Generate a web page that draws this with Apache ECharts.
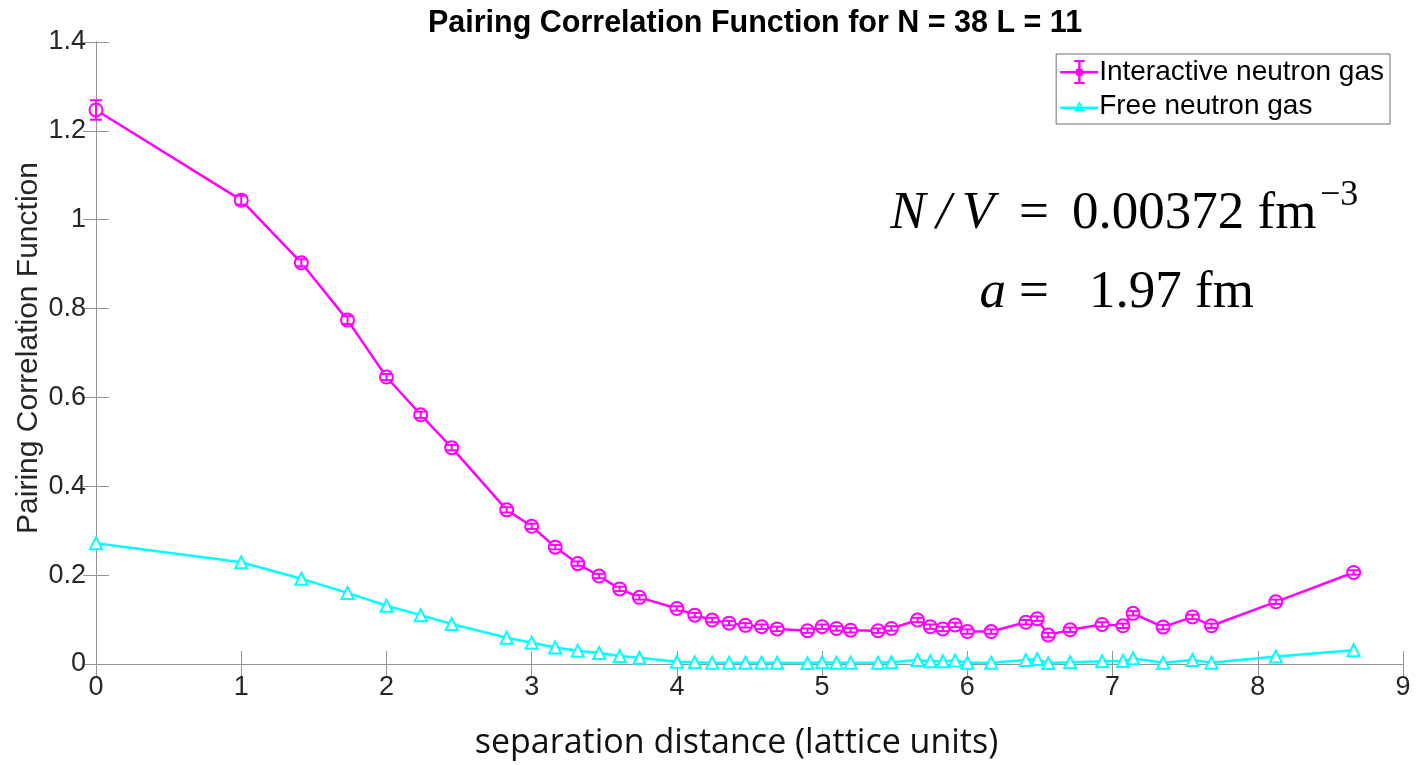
<!DOCTYPE html>
<html>
<head>
<meta charset="utf-8">
<title>Pairing Correlation Function</title>
<script src="https://cdn.jsdelivr.net/npm/echarts@6/dist/echarts.min.js"></script>
<style>
html, body { margin: 0; padding: 0; background: #fff; }
#chart { width: 1417px; height: 765px; }
</style>
</head>
<body>
<div id="chart"></div>
<script>
// separation distance (lattice units)
var distances = [0, 1, 1.414, 1.732, 2, 2.236, 2.449, 2.828, 3, 3.162, 3.317, 3.464, 3.606, 3.742,
	4, 4.123, 4.243, 4.359, 4.472, 4.583, 4.690, 4.899, 5, 5.099, 5.196, 5.385, 5.477, 5.657,
	5.745, 5.831, 5.916, 6, 6.164, 6.403, 6.481, 6.557, 6.708, 6.928, 7.071, 7.141, 7.348,
	7.550, 7.681, 8.124, 8.660];
// interactive neutron gas
var interactive = [1.247, 1.044, 0.903, 0.774, 0.646, 0.561, 0.487, 0.347, 0.310, 0.263, 0.226, 0.198, 0.169, 0.150,
	0.125, 0.110, 0.099, 0.092, 0.087, 0.084, 0.079, 0.075, 0.084, 0.080, 0.076, 0.075, 0.080, 0.099,
	0.084, 0.079, 0.088, 0.073, 0.073, 0.094, 0.102, 0.065, 0.077, 0.089, 0.086, 0.114, 0.083,
	0.106, 0.086, 0.140, 0.206];
// half width of the error bars
var interactiveErr = [0.022, 0.010, 0.008, 0.009, 0.007, 0.007, 0.006, 0.006, 0.006, 0.005, 0.005, 0.005, 0.005, 0.005,
	0.005, 0.005, 0.005, 0.005, 0.005, 0.005, 0.005, 0.005, 0.005, 0.005, 0.005, 0.005, 0.005, 0.005,
	0.005, 0.005, 0.005, 0.005, 0.005, 0.005, 0.005, 0.005, 0.005, 0.005, 0.005, 0.005, 0.005,
	0.005, 0.005, 0.005, 0.005];
// free neutron gas
var freeGas = [0.272, 0.229, 0.192, 0.160, 0.131, 0.110, 0.090, 0.059, 0.048, 0.037, 0.030, 0.025, 0.018, 0.014,
	0.005, 0.004, 0.003, 0.003, 0.003, 0.003, 0.003, 0.002, 0.004, 0.003, 0.003, 0.003, 0.004, 0.009,
	0.006, 0.006, 0.008, 0.003, 0.003, 0.009, 0.011, 0.002, 0.004, 0.006, 0.007, 0.013, 0.003,
	0.009, 0.003, 0.017, 0.031];

var magenta = '#ff00ff';
var cyan = '#00ffff';
var axisGray = '#949494';
var labelColor = '#262626';

// legend icons (38 x 26 box): line + dot + error bar, line + hollow triangle
var errIcon = 'path://M0,12 L38,12 L38,14.4 L0,14.4 Z ' +
	'M18,1 L20.4,1 L20.4,25 L18,25 Z ' +
	'M14,1 L24.4,1 L24.4,3 L14,3 Z ' +
	'M14,23 L24.4,23 L24.4,25 L14,25 Z ' +
	'M23.4,13.2 A4.2,4.2 0 1,1 15,13.2 A4.2,4.2 0 1,1 23.4,13.2 Z';
var triIcon = 'path://M0,12 L38,12 L38,14.4 L0,14.4 Z ' +
	'M19.2,6.5 L24.6,16.5 L13.8,16.5 Z M19.2,10 L16.6,14.6 L21.8,14.6 Z';

var interactiveData = distances.map(function(d, i) { return [d, interactive[i]]; });
var errData = distances.map(function(d, i) { return [d, interactive[i] - interactiveErr[i], interactive[i] + interactiveErr[i]]; });
var freeData = distances.map(function(d, i) { return [d, freeGas[i]]; });

function boxAxis(pos, isX) {
	var ax = {
		type: 'value',
		position: pos,
		axisLine: { show: true, lineStyle: { color: axisGray, width: 1 } },
		axisTick: { show: true, inside: true, length: 13, lineStyle: { color: axisGray } },
		axisLabel: { show: false },
		splitLine: { show: false }
	};
	if (isX) { ax.min = 0; ax.max = 9; ax.interval = 1; }
	else { ax.min = 0; ax.max = 1.4; ax.interval = 0.2; }
	return ax;
}

var xMain = boxAxis('bottom', true);
xMain.axisLabel = { show: true, margin: 10, color: labelColor, fontSize: 27, fontFamily: 'Liberation Sans' };
xMain.name = 'separation distance (lattice units)';
xMain.nameLocation = 'middle';
xMain.nameGap = 62;
xMain.nameMoveOverlap = false;
xMain.nameTextStyle = { color: '#111', fontSize: 34, fontFamily: 'Open Sans', padding: [0, 26, 0, 0] };

var yMain = boxAxis('left', false);
yMain.axisLabel = { show: true, margin: 10, color: labelColor, fontSize: 27, fontFamily: 'Liberation Sans' };
yMain.name = 'Pairing Correlation Function';
yMain.nameLocation = 'middle';
yMain.nameGap = 52;
yMain.nameMoveOverlap = false;
yMain.nameTextStyle = { color: labelColor, fontSize: 30, fontFamily: 'Liberation Sans', padding: [0, 0, 0, 10] };

var option = {
	animation: false,
	backgroundColor: '#fff',
	title: {
		text: 'Pairing Correlation Function for N = 38 L = 11',
		left: 750,
		textAlign: 'center',
		top: 3,
		textStyle: { color: '#000', fontSize: 30.5, fontWeight: 'bold', fontFamily: 'Liberation Sans' }
	},
	grid: { left: 96, right: 14, top: 42, bottom: 101, containLabel: false },
	legend: {
		orient: 'vertical',
		right: 27,
		top: 54,
		data: [{ name: 'Interactive neutron gas', icon: errIcon }, { name: 'Free neutron gas', icon: triIcon }],
		backgroundColor: '#fff',
		borderColor: '#6f6f6f',
		borderWidth: 1,
		padding: [4, 6, 4, 4],
		itemGap: 6,
		itemWidth: 38,
		itemHeight: 26,
		textStyle: { color: '#000', fontSize: 28, fontFamily: 'Liberation Sans', padding: [0, 0, 0, -4] }
	},
	xAxis: [xMain, boxAxis('top', true)],
	yAxis: [yMain, boxAxis('right', false)],
	series: [{
		name: 'Interactive neutron gas',
		type: 'line',
		data: interactiveData,
		symbol: 'emptyCircle',
		symbolSize: 13,
		lineStyle: { color: magenta, width: 2.5 },
		itemStyle: { color: magenta, borderWidth: 2.2 },
		z: 3
	}, {
		name: 'errorbars',
		type: 'custom',
		data: errData,
		encode: { x: 0, y: [1, 2] },
		silent: true,
		z: 4,
		renderItem: function(params, api) {
			var x = api.value(0);
			var lo = api.coord([x, api.value(1)]);
			var hi = api.coord([x, api.value(2)]);
			var w = 6;
			var st = { stroke: magenta, lineWidth: 2 };
			return {
				type: 'group',
				children: [
					{ type: 'line', shape: { x1: hi[0], y1: hi[1], x2: lo[0], y2: lo[1] }, style: st },
					{ type: 'line', shape: { x1: hi[0] - w, y1: hi[1], x2: hi[0] + w, y2: hi[1] }, style: st },
					{ type: 'line', shape: { x1: lo[0] - w, y1: lo[1], x2: lo[0] + w, y2: lo[1] }, style: st }
				]
			};
		}
	}, {
		name: 'Free neutron gas',
		type: 'line',
		data: freeData,
		symbol: 'emptyTriangle',
		symbolSize: 12,
		lineStyle: { color: cyan, width: 2.5 },
		itemStyle: { color: cyan, borderWidth: 2.2 },
		z: 2
	}],
	graphic: [
		{ type: 'text', x: 994, y: 214, style: { text: 'N\u2009/\u2009V', fill: '#000', font: 'italic 53px "Liberation Serif"', textAlign: 'right', textVerticalAlign: 'middle' } },
		{ type: 'text', x: 1034, y: 214, style: { text: '=', fill: '#000', font: '53px "Liberation Serif"', textAlign: 'center', textVerticalAlign: 'middle' } },
		{ type: 'text', x: 1072, y: 214, style: { text: '0.00372 fm', fill: '#000', font: '53px "Liberation Serif"', textAlign: 'left', textVerticalAlign: 'middle' } },
		{ type: 'text', x: 1320, y: 196, style: { text: '\u22123', fill: '#000', font: '36px "Liberation Serif"', textAlign: 'left', textVerticalAlign: 'middle' } },
		{ type: 'text', x: 1006, y: 293, style: { text: 'a', fill: '#000', font: 'italic 53px "Liberation Serif"', textAlign: 'right', textVerticalAlign: 'middle' } },
		{ type: 'text', x: 1034, y: 293, style: { text: '=', fill: '#000', font: '53px "Liberation Serif"', textAlign: 'center', textVerticalAlign: 'middle' } },
		{ type: 'text', x: 1089, y: 293, style: { text: '1.97 fm', fill: '#000', font: '53px "Liberation Serif"', textAlign: 'left', textVerticalAlign: 'middle' } }
	]
};

var chart = echarts.init(document.getElementById('chart'));
chart.setOption(option);
</script>
</body>
</html>
